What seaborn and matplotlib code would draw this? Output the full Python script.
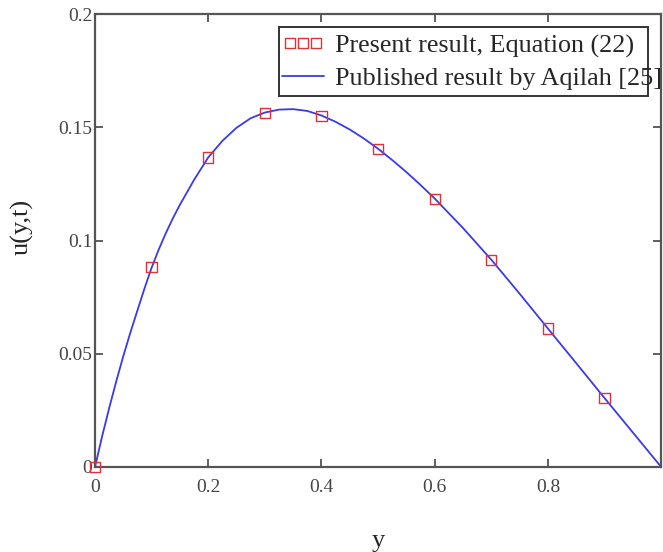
import numpy as np
import pandas as pd
import matplotlib
matplotlib.use("Agg")
import matplotlib.pyplot as plt
import matplotlib.patches as mpatches
import seaborn as sb

# curve (Aqilah [25])
curve_y = [0, 0.0125, 0.025, 0.0375, 0.05, 0.0625, 0.075, 0.0875, 0.1, 0.1125, 0.125,
           0.1375, 0.15, 0.175, 0.2, 0.225, 0.25, 0.275, 0.3, 0.325, 0.35, 0.375,
           0.4, 0.425, 0.45, 0.475, 0.5, 0.525, 0.55, 0.575, 0.6, 0.65, 0.7, 0.75,
           0.8, 0.85, 0.9, 0.95, 1.0]
curve_u = [0, 0.0135, 0.026, 0.0378, 0.049, 0.0594, 0.0692, 0.0789, 0.0880, 0.0960, 0.1032,
           0.1098, 0.1158, 0.1268, 0.1367, 0.1440, 0.1498, 0.1540, 0.1565, 0.1578, 0.1580, 0.1572,
           0.1552, 0.1524, 0.1490, 0.1450, 0.1405, 0.1355, 0.1302, 0.1245, 0.1185, 0.1055, 0.0915, 0.0765,
           0.0611, 0.0458, 0.0304, 0.0152, 0]

# present result, Equation (22)
pts_y = [0, 0.1, 0.2, 0.3, 0.4, 0.5, 0.6, 0.7, 0.8, 0.9]
pts_u = [0, 0.0882, 0.1367, 0.1562, 0.1549, 0.1405, 0.1184, 0.0915, 0.0611, 0.0304]

xticks = [0, 0.2, 0.4, 0.6, 0.8]
xticklabels = ["0", "0.2", "0.4", "0.6", "0.8"]
yticks = [0, 0.05, 0.1, 0.15, 0.2]
yticklabels = ["0", "0.05", "0.1", "0.15", "0.2"]

line_df = pd.DataFrame({"y": curve_y, "u": curve_u})
pts_df = pd.DataFrame({"y": pts_y, "u": pts_u})

sb.set_style("ticks")
plt.rcParams["font.family"] = ["Liberation Serif", "DejaVu Serif"]

fig = plt.figure(figsize=(6.63, 5.52), dpi=100)
ax = fig.add_axes([0.1433, 0.154, 0.854, 0.8206])

sb.scatterplot(data=pts_df, x="y", y="u", ax=ax, marker="s", s=55,
               facecolors="none", edgecolor="#e0303a", linewidth=1.0,
               label="Present result, Equation (22)", zorder=3, clip_on=False)
sb.lineplot(data=line_df, x="y", y="u", ax=ax, color="#3a3ae8", linewidth=1.3,
            label="Published result by Aqilah [25]", zorder=2)

ax.set_xlim(0, 1.0)
ax.set_ylim(0, 0.2)
ax.set_xticks(xticks)
ax.set_xticklabels(xticklabels)
ax.set_yticks(yticks)
ax.set_yticklabels(yticklabels)
ax.tick_params(direction="in", length=6, width=1.2, top=True, right=True,
               labelsize=14, colors="#444444")
ax.tick_params(axis="x", pad=9)
ax.tick_params(axis="y", pad=2)
for sp in ax.spines.values():
    sp.set_color("#555555")
    sp.set_linewidth(1.6)

ax.set_xlabel("y", fontsize=19, labelpad=24)
ax.set_ylabel("u(y,t)", fontsize=19)
ax.yaxis.set_label_coords(-0.109, 0.53)

# legend box is narrower than the text in the original, so draw it by hand
box = mpatches.Rectangle((0.325, 0.819), 0.652, 0.152, transform=ax.transAxes,
                         facecolor="white", edgecolor="#333333", linewidth=1.4, zorder=4)
ax.add_patch(box)
leg = ax.legend(loc="upper left", bbox_to_anchor=(0.33, 0.956), scatterpoints=3,
                scatteryoffsets=[0.5], fontsize=18.8, frameon=False,
                borderpad=0, labelspacing=0.36, handlelength=1.6,
                handletextpad=0.42, borderaxespad=0)
leg.set_zorder(5)

fig.savefig("out.png", dpi=100)
